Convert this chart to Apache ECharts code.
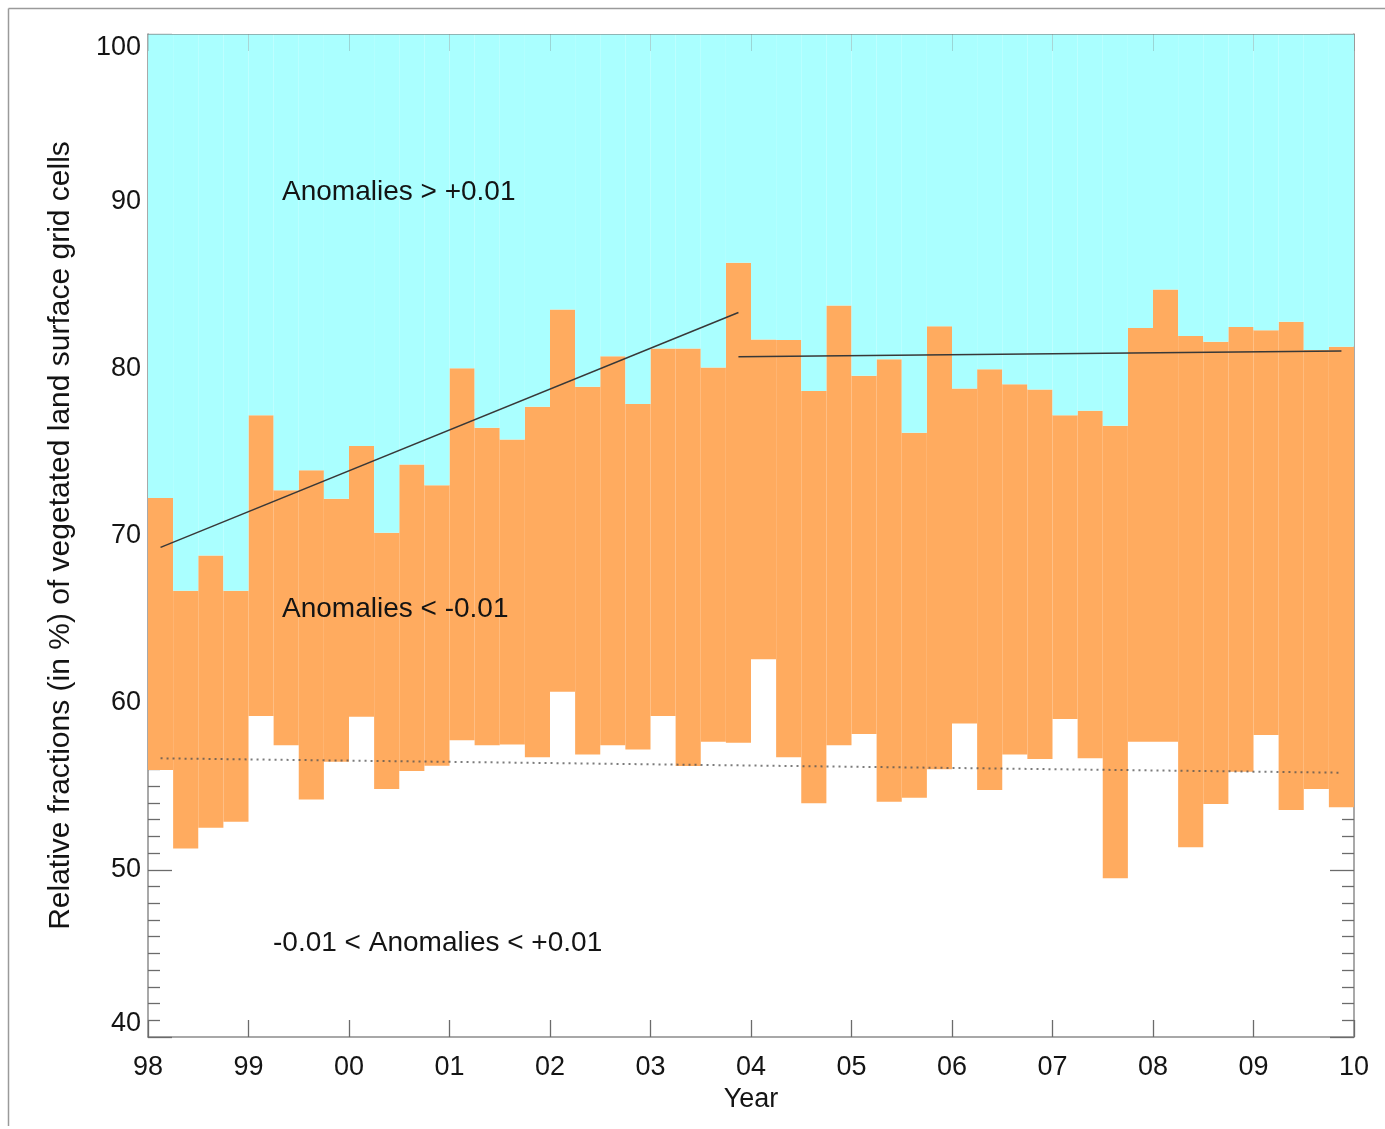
<!DOCTYPE html>
<html>
<head>
<meta charset="utf-8">
<script src="https://cdn.jsdelivr.net/npm/echarts@6/dist/echarts.min.js"></script>
<style>
  html, body { margin: 0; padding: 0; background: #ffffff; }
  #chart { width: 1385px; height: 1129px; }
</style>
</head>
<body>
<div id="chart"></div>
<script>
// Year tick labels along the time axis (1998 .. 2010)
const yearTicks = ['98', '99', '00', '01', '02', '03', '04', '05', '06', '07', '08', '09', '10'];
const quarterNames = ['Q1', 'Q2', 'Q3', 'Q4'];

// One bar per quarter, 1998 Q1 .. 2009 Q4
const quarters = [];
yearTicks.slice(0, 12).forEach(function (y) {
  quarterNames.forEach(function (q) { quarters.push(y + ' ' + q); });
});

// Upper boundary (%): above it, cells with anomalies > +0.01
const upperBound = [
  72.25, 66.7, 68.8, 66.7, 77.2, 72.7, 73.9, 72.2, 75.35, 70.16, 74.25, 73.0,
  80.0, 76.44, 75.75, 77.7, 83.52, 78.9, 80.73, 77.86, 81.19, 81.19, 80.05, 86.31,
  81.73, 81.69, 78.64, 83.76, 79.55, 80.55, 76.14, 82.52, 78.8, 79.95, 79.05, 78.74,
  77.2, 77.46, 76.56, 82.42, 84.72, 81.93, 81.59, 82.48, 82.28, 82.78, 81.09, 81.29
];

// Lower boundary (%): below it, cells with -0.01 < anomalies < +0.01
const lowerBound = [
  55.97, 51.28, 52.52, 52.88, 59.2, 57.46, 54.21, 56.47, 59.16, 54.83, 55.91, 56.23,
  57.75, 57.46, 57.5, 56.73, 60.65, 56.9, 57.46, 57.2, 59.2, 56.21, 57.66, 57.6,
  62.59, 56.73, 53.98, 57.46, 58.12, 54.07, 54.31, 56.01, 58.76, 54.77, 56.9, 56.63,
  59.02, 56.67, 49.49, 57.66, 57.66, 51.35, 53.94, 55.87, 58.06, 53.58, 54.83, 53.74
];

// Linear trends [year, %]
const trendEarly = [[1998.125, 69.29], [2003.875, 83.34]];
const trendLate = [[2003.875, 80.69], [2009.875, 81.03]];
const trendLower = [[1998.125, 56.67], [2009.875, 55.81]];

// Stack segments derived from the two boundaries
const negativeBand = upperBound.map(function (u, i) { return +(u - lowerBound[i]).toFixed(2); });
const positiveBand = upperBound.map(function (u) { return +(100 - u).toFixed(2); });

const FONT = '"Liberation Sans", Arial, Helvetica, sans-serif';
const AXIS_GREY = '#8c8c8c';
const TICK_GREY = '#6b6b6b';
const TEXT = '#141414';

const chart = echarts.init(document.getElementById('chart'), null, { renderer: 'canvas' });

const yAxisBase = {
  type: 'value', min: 40, max: 100, interval: 10,
  splitLine: { show: false },
  axisLine: { show: true, lineStyle: { color: AXIS_GREY, width: 1.5 } },
  axisTick: { show: true, inside: true, length: 24, lineStyle: { color: TICK_GREY, width: 1.3 } },
  minorTick: { show: true, splitNumber: 10, length: 12, lineStyle: { color: TICK_GREY, width: 1.3 } }
};

chart.setOption({
  animation: false,
  backgroundColor: '#ffffff',
  grid: { left: 148, top: 34, width: 1206, height: 1003 },
  xAxis: [
    {
      type: 'category', data: quarters, position: 'bottom', show: false,
      boundaryGap: true
    },
    {
      type: 'value', min: 1998, max: 2010, interval: 1, position: 'bottom',
      splitLine: { show: false },
      axisLine: { show: true, lineStyle: { color: AXIS_GREY, width: 1.5 } },
      axisTick: { show: true, inside: true, length: 17, lineStyle: { color: TICK_GREY, width: 1.3 } },
      axisLabel: {
        color: TEXT, fontSize: 27, fontFamily: FONT, margin: 17,
        formatter: function (v) { return yearTicks[Math.round(v - 1998)]; }
      },
      name: 'Year', nameLocation: 'middle', nameGap: 48,
      nameTextStyle: { color: TEXT, fontSize: 27, fontFamily: FONT }
    },
    {
      type: 'value', min: 1998, max: 2010, interval: 1, position: 'top', z: 3,
      splitLine: { show: false },
      axisLine: { show: true, lineStyle: { color: 'rgba(120,120,120,0.55)', width: 1.2 } },
      axisTick: { show: true, inside: true, length: 17, lineStyle: { color: 'rgba(120,120,120,0.3)', width: 1 } },
      axisLabel: { show: false }
    }
  ],
  yAxis: [
    Object.assign({}, yAxisBase, {
      position: 'left',
      axisLabel: {
        color: TEXT, fontSize: 27, fontFamily: FONT, margin: 7,
        verticalAlignMinLabel: 'bottom', verticalAlignMaxLabel: 'top'
      },
      name: 'Relative fractions (in %) of vegetated land surface grid cells',
      nameLocation: 'middle', nameGap: 72, nameRotate: 90,
      nameTextStyle: { color: TEXT, fontSize: 30, fontFamily: FONT }
    }),
    Object.assign({}, yAxisBase, {
      position: 'right',
      axisLabel: { show: false }
    })
  ],
  series: [
    {
      name: '-0.01 < Anomalies < +0.01', type: 'bar', stack: 'fraction',
      xAxisIndex: 0, yAxisIndex: 0, barCategoryGap: '0%',
      data: lowerBound, silent: true,
      itemStyle: { color: 'rgba(255,255,255,0)' }
    },
    {
      name: 'Anomalies < -0.01', type: 'bar', stack: 'fraction',
      xAxisIndex: 0, yAxisIndex: 0, barCategoryGap: '0%',
      data: negativeBand, silent: true,
      itemStyle: { color: '#FFAB5F' }
    },
    {
      name: 'Anomalies > +0.01', type: 'bar', stack: 'fraction',
      xAxisIndex: 0, yAxisIndex: 0, barCategoryGap: '0%',
      data: positiveBand, silent: true,
      itemStyle: { color: '#AAFFFF' }
    },
    {
      name: 'Trend 1998-2003', type: 'line', xAxisIndex: 1, yAxisIndex: 0,
      data: trendEarly, symbol: 'none', z: 5, silent: true,
      lineStyle: { color: '#383838', width: 1.5 }
    },
    {
      name: 'Trend 2004-2009', type: 'line', xAxisIndex: 1, yAxisIndex: 0,
      data: trendLate, symbol: 'none', z: 5, silent: true,
      lineStyle: { color: '#383838', width: 1.5 }
    },
    {
      name: 'Trend lower boundary', type: 'line', xAxisIndex: 1, yAxisIndex: 0,
      data: trendLower, symbol: 'none', z: 5, silent: true,
      lineStyle: { color: 'rgba(80,80,80,0.75)', width: 2, type: [2, 4] }
    }
  ],
  graphic: [
    // page frame
    { type: 'line', silent: true, shape: { x1: 8.5, y1: 8.5, x2: 1385, y2: 8.5 },
      style: { stroke: '#9a9a9a', lineWidth: 1.5 } },
    { type: 'line', silent: true, shape: { x1: 8.5, y1: 8.5, x2: 8.5, y2: 1126 },
      style: { stroke: '#9a9a9a', lineWidth: 1.5 } },
    // region annotations
    { type: 'text', x: 282, y: 192, z: 10, silent: true,
      style: { text: 'Anomalies > +0.01', fill: TEXT, fontSize: 28, fontFamily: FONT,
               align: 'left', verticalAlign: 'middle' } },
    { type: 'text', x: 282, y: 609, z: 10, silent: true,
      style: { text: 'Anomalies < -0.01', fill: TEXT, fontSize: 28, fontFamily: FONT,
               align: 'left', verticalAlign: 'middle' } },
    { type: 'text', x: 273, y: 943, z: 10, silent: true,
      style: { text: '-0.01 < Anomalies < +0.01', fill: TEXT, fontSize: 28, fontFamily: FONT,
               align: 'left', verticalAlign: 'middle' } }
  ]
});
</script>
</body>
</html>
